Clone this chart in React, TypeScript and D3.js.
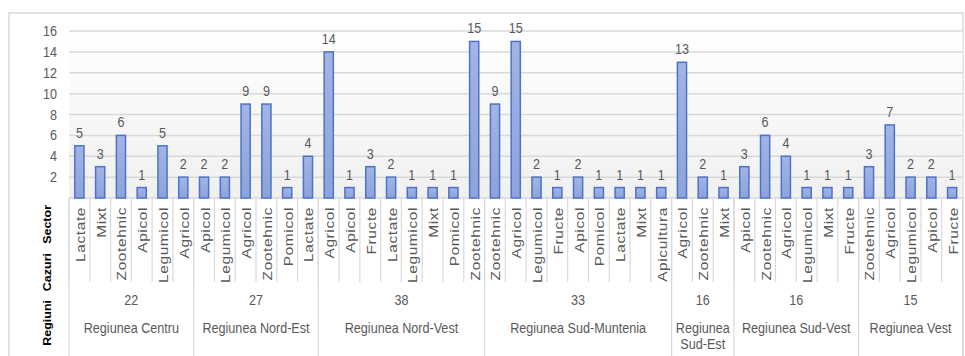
import * as d3 from "d3";
import React from "react";

const regions = [
  ["Regiunea Centru"],
  ["Regiunea Nord-Est"],
  ["Regiunea Nord-Vest"],
  ["Regiunea Sud-Muntenia"],
  ["Regiunea", "Sud-Est"],
  ["Regiunea Sud-Vest"],
  ["Regiunea Vest"],
];
const regionTotals = [22, 27, 38, 33, 16, 16, 15];
const sectors = [
  ["Lactate", "Mixt", "Zootehnic", "Apicol", "Legumicol", "Agricol"],
  ["Apicol", "Legumicol", "Agricol", "Zootehnic", "Pomicol", "Lactate"],
  ["Agricol", "Apicol", "Fructe", "Lactate", "Legumicol", "Mixt", "Pomicol", "Zootehnic"],
  ["Zootehnic", "Agricol", "Legumicol", "Fructe", "Apicol", "Pomicol", "Lactate", "Mixt", "Apicultura"],
  ["Agricol", "Zootehnic", "Mixt"],
  ["Apicol", "Zootehnic", "Agricol", "Legumicol", "Mixt", "Fructe"],
  ["Zootehnic", "Agricol", "Legumicol", "Apicol", "Fructe"],
];
const cases = [
  [5, 3, 6, 1, 5, 2],
  [2, 2, 9, 9, 1, 4],
  [14, 1, 3, 2, 1, 1, 1, 15],
  [9, 15, 2, 1, 2, 1, 1, 1, 1],
  [13, 2, 1],
  [3, 6, 4, 1, 1, 1],
  [3, 7, 2, 2, 1],
];
const yTicks = [2, 4, 6, 8, 10, 12, 14, 16];

const W = 965;
const H = 356;
const left = 69;
const right = 962.5;
const top = 31;
const bottom = 198;
const sx = 0.84;
const font = "'Liberation Sans', Arial, sans-serif";
const textColor = "#595959";
const lineColor = "#d9d9d9";

export default function App() {
  const items = sectors.flatMap((list, gi) =>
    list.map((s, i) => ({ key: `${gi}-${i}`, group: gi, sector: s, value: cases[gi][i] }))
  );
  const x = d3
    .scaleBand<string>()
    .domain(items.map((d) => d.key))
    .range([left, right])
    .paddingInner(0.56)
    .paddingOuter(0.28);
  const y = d3.scaleLinear().domain([0, 16]).range([bottom, top]);
  const step = x.step();

  // group boundaries
  const starts: number[] = [];
  let acc = 0;
  sectors.forEach((list) => {
    starts.push(acc);
    acc += list.length;
  });
  const groupX = (i: number) => left + i * step;

  return (
    <svg
      width={W}
      height={H}
      style={{ position: "absolute", left: 0, top: 0, background: "#fff" }}
      fontFamily={font}
    >
      <defs>
        <linearGradient id="bg" x1="0" y1="0" x2="0" y2="1">
          <stop offset="0" stopColor="#ffffff" />
          <stop offset="1" stopColor="#f0f0f0" />
        </linearGradient>
        <linearGradient id="bar" x1="0" y1="0" x2="0" y2="1">
          <stop offset="0" stopColor="#a3b4e4" />
          <stop offset="1" stopColor="#8ea3db" />
        </linearGradient>
      </defs>

      {/* outer frame */}
      <rect x={9} y={13} width={954} height={H} fill="none" stroke={lineColor} strokeWidth={1.5} />
      <rect x={left} y={top} width={right - left} height={bottom - top} fill="url(#bg)" />

      {/* gridlines + y labels */}
      {yTicks.map((t) => (
        <g key={t}>
          <line x1={left} x2={right} y1={y(t)} y2={y(t)} stroke={lineColor} strokeWidth={1.5} />
          <text
            transform={`translate(57,${y(t) + 5}) scale(${sx},1)`}
            textAnchor="end"
            fontSize={15}
            fill={textColor}
          >
            {t}
          </text>
        </g>
      ))}
      <line x1={left} x2={right} y1={bottom} y2={bottom} stroke={lineColor} strokeWidth={1.5} />

      {/* bars */}
      {items.map((d) => (
        <g key={d.key}>
          <rect
            x={x(d.key)}
            y={y(d.value)}
            width={x.bandwidth()}
            height={bottom - y(d.value)}
            fill="url(#bar)"
            stroke="#4a74c9"
            strokeWidth={1.5}
          />
          <text
            transform={`translate(${x(d.key)! + x.bandwidth() / 2},${y(d.value) - 8}) scale(${sx},1)`}
            textAnchor="middle"
            fontSize={15}
            fill={textColor}
          >
            {d.value}
          </text>
        </g>
      ))}

      {/* sector dividers */}
      {d3.range(items.length + 1).map((i) => (
        <line
          key={i}
          x1={groupX(i)}
          x2={groupX(i)}
          y1={bottom}
          y2={282}
          stroke={lineColor}
          strokeWidth={1.2}
        />
      ))}
      {/* group dividers */}
      {[...starts, items.length].map((s) => (
        <line key={s} x1={groupX(s)} x2={groupX(s)} y1={bottom} y2={H} stroke={lineColor} strokeWidth={1.2} />
      ))}

      {/* sector labels */}
      {items.map((d) => (
        <text
          key={d.key}
          transform={`translate(${x(d.key)! + x.bandwidth() / 2 + 5.5},207) scale(${sx},1) rotate(-90)`}
          textAnchor="end"
          fontSize={15.5}
          letterSpacing={0.6}
          fill={textColor}
        >
          {d.sector}
        </text>
      ))}

      {/* region totals and names */}
      {regions.map((lines, gi) => {
        const cx = (groupX(starts[gi]) + groupX(starts[gi] + sectors[gi].length)) / 2;
        return (
          <g key={gi}>
            <text
              transform={`translate(${cx},305) scale(${sx},1)`}
              textAnchor="middle"
              fontSize={15}
              fill={textColor}
            >
              {regionTotals[gi]}
            </text>
            {lines.map((ln, li) => (
              <text
                key={li}
                transform={`translate(${cx},${333 + li * 16}) scale(${sx},1)`}
                textAnchor="middle"
                fontSize={15}
                fill={textColor}
              >
                {ln}
              </text>
            ))}
          </g>
        );
      })}

      {/* axis titles */}
      {[
        { t: "Sector", y: 205 },
        { t: "Cazuri", y: 253 },
        { t: "Regiuni", y: 300 },
      ].map((d) => (
        <text
          key={d.t}
          transform={`translate(51,${d.y}) scale(${sx},1) rotate(-90)`}
          textAnchor="end"
          fontSize={12.5}
          fontWeight="bold"
          fill="#000"
        >
          {d.t}
        </text>
      ))}
    </svg>
  );
}
